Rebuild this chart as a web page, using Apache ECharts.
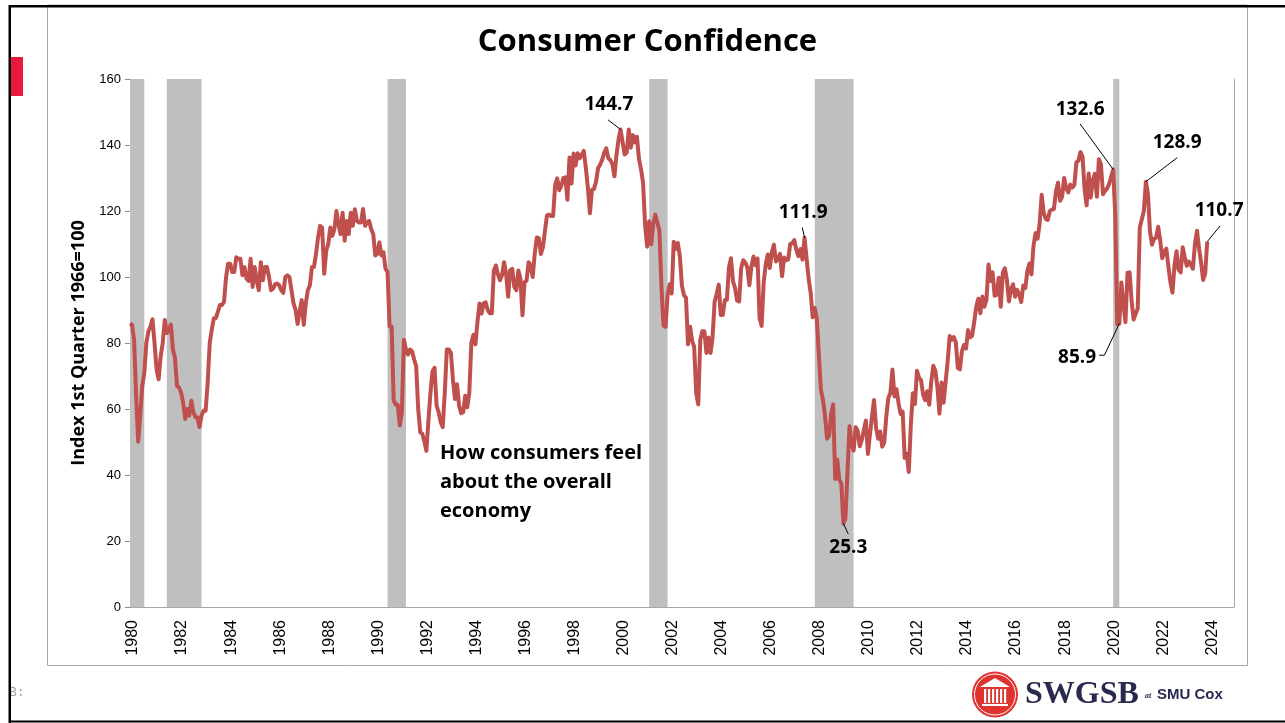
<!DOCTYPE html>
<html><head><meta charset="utf-8">
<style>html,body{margin:0;padding:0;background:#fff}#c{width:1285px;height:723px}</style>
<script src="https://cdn.jsdelivr.net/npm/echarts@6/dist/echarts.min.js"></script>
</head><body><div id="c"></div>
<script>
const y1980=[85.9,85.5,81,64,50.1,58,67,71,80,83.5,85,87.2];
const y1981=[80,72,69,76,80,87,83,84,85.6,78,75.5,67];
const y1982=[66.5,65,62,57,60,58,62.5,59,57.5,57.5,54.5,58];
const y1983=[59.5,59.5,68,80,84,87.5,87.5,89.5,91.5,91.5,92.5,100];
const y1984=[104,104,101.5,101.5,106,105.5,105.5,100.5,103,99.5,98.8,105.5];
const y1985=[97,103,99,96,104.5,99,103,103,100,96,96.5,97.8];
const y1986=[98,97.5,96,95.2,100,100.5,100,96,92,90,85.8,89.5];
const y1987=[93,85.5,92,96,97.5,103,103,107,112,115.5,115,101];
const y1988=[108,110,115,112.5,114.5,120,116,113,119.5,111,117,113];
const y1989=[119.5,115.5,120.5,117,116.5,116.5,120.6,115.5,116.5,117,114.5,113];
const y1990=[106.5,107,110.5,106.5,107.5,102.5,101.5,85,85,62.6,61.3,61.3];
const y1991=[55,59,81,78,76.5,78,77.5,75,73,60,52.9,52.5];
const y1992=[50.2,47.3,56.5,65,71.5,72.5,61,59,56,54.5,65,78];
const y1993=[78,77,68.8,63,67.5,61,58.7,59,64,60.5,65,80];
const y1994=[82.5,79.6,86.5,92,88.9,92,92.3,90,89,89,102,103.5];
const y1995=[100.8,99,100.5,104.5,101,94,102,102.5,97,96,102,99.5];
const y1996=[88.4,98.4,98.9,104.5,103.5,100,107,112,111.8,107,109,114];
const y1997=[118.7,118.9,118.5,118.5,127.9,129.9,126.3,127.6,130,130.2,123.4,136.2];
const y1998=[128.3,137.4,133.8,137.5,136,137,138.2,133.1,127,119.3,126.4,126.7];
const y1999=[128.9,133,134,135.5,137.7,139,136,135.4,134.2,130.5,137,141.7];
const y2000=[144.7,140.8,137.1,137.7,144.7,139.2,143,140.8,142.5,135.8,132.6,128.6];
const y2001=[115.7,109.2,116.9,109.9,116.1,118.9,116.5,114,97,85.3,84.9,94.6];
const y2002=[97.8,95,110.7,108.5,110.3,106.3,97.4,94.5,93.7,79.6,84.9,80.7];
const y2003=[78.8,64.8,61.4,81,83.6,83.5,77,81.7,77,81.7,92.5,94.8];
const y2004=[97.7,88.5,88.5,93,93.1,102.8,105.7,98.7,96.7,92.9,92.6,102.7];
const y2005=[105.1,104.4,103,97.5,103.1,106.2,103.6,105.6,87.5,85.2,98.3,103.8];
const y2006=[106.8,102.7,107.5,109.8,104.7,105.4,107,100.2,105.9,105.1,105.3,110];
const y2007=[110.2,111.2,108.2,106.3,108.5,105.3,111.9,105.6,99.5,95.2,87.8,90.6];
const y2008=[87.3,76.4,65.9,62.8,58.1,51,51.9,58.5,61.4,38.8,44.7,38.6];
const y2009=[37.4,25.3,26.9,40.8,54.8,49.3,47.4,54.5,53.4,48.7,50.6,53.6];
const y2010=[56.5,46.4,52.3,57.7,62.7,54.3,51,53.2,48.6,49.9,57.8,63.4];
const y2011=[64.8,72,63.8,66,61.7,58.5,59.2,45.2,46.4,40.9,55.2,64.8];
const y2012=[61.5,71.6,69.5,68.7,64.4,62.7,65.4,61.3,68.4,73.1,71.5,66.7];
const y2013=[58.6,68,61.9,68.1,74.3,82.1,81,81.8,80.2,72.4,72,77.5];
const y2014=[79.4,78.3,83.9,81.7,82.2,86.4,90.9,93.4,89,94.1,91,93.1];
const y2015=[103.8,98.8,101.4,94.3,94.6,99.8,91,101.3,102.6,99.1,92.6,96.3];
const y2016=[97.8,94,96.1,94.7,92.4,97.4,96.7,101.8,104.1,100.8,109.4,113.3];
const y2017=[111.6,116.1,124.9,119.4,117.6,117.3,120,120.4,120.6,125.9,128.6,123.1];
const y2018=[124.3,130,127,125.6,128,127.1,127.9,134.7,135.3,137.9,136.4,126.6];
const y2019=[121.7,131.4,124.1,129.2,131.3,124.3,135.7,134.2,125.1,126.1,126.8,128.2];
const y2020=[130.4,132.6,118.8,85.7,85.9,98.3,91.7,86.3,101.3,101.4,92.9,87.1];
const y2021=[88.9,90.4,114.9,117.5,120,128.9,125.1,113.8,109.8,111.6,111.9,115.2];
const y2022=[111.1,105.7,107.6,108.6,103.2,98.4,95.3,103.6,107.8,102.2,101.4,109];
const y2023=[106,103.4,104.7,103.7,102.5,110.1,114,108.7,104.3,99.1,101,110.7];

const confidence=[y1980,y1981,y1982,y1983,y1984,y1985,y1986,y1987,y1988,y1989,y1990,y1991,y1992,y1993,y1994,y1995,y1996,y1997,y1998,y1999,y2000,y2001,y2002,y2003,y2004,y2005,y2006,y2007,y2008,y2009,y2010,y2011,y2012,y2013,y2014,y2015,y2016,y2017,y2018,y2019,y2020,y2021,y2022,y2023].flat();

// Monthly category axis, Jan 1980 to Jan 2025
const months=[];
for(let y=1980;y<=2025;y++)for(let m=1;m<=12;m++){if(y===2025&&m>1)break;months.push(y+'-'+String(m).padStart(2,'0'));}

const recessions=[['1980-01','1980-08'],['1981-07','1982-12'],['1990-07','1991-04'],['2001-03','2001-12'],['2007-12','2009-07'],['2020-02','2020-05']];

// Callouts: [label, labelMonthIndex, labelValue]
const callouts=[['144.7',234.3,152.1],['111.9',329.3,119.4],['132.6',464.8,150.6],['128.9',512.3,140.6],['110.7',532.8,120],['85.9',463.3,75.6],['25.3',351.4,17.9]];
// Leader lines: list of [monthIndex,value] vertices
const leaders=[[[233.9,147.6],[240,144.7]],[[328.9,115],[330,111.9]],[[464.8,146.4],[481,132.6]],[[512.4,136.2],[497,128.9]],[[533.3,115.5],[527,110.7]],[[474.1,76.3],[476.7,76.3],[484,85.9]],[[351.4,22.1],[349,25.3]]];

const boldFont='"Open Sans","Noto Sans",sans-serif';
const chart=echarts.init(document.getElementById('c'),null,{renderer:'canvas'});
const leaderSeries=leaders.map(pts=>({type:'line',xAxisIndex:1,yAxisIndex:0,data:pts,symbol:'none',silent:true,z:6,lineStyle:{color:'#000',width:1},animation:false}));

chart.setOption({
 animation:false,
 backgroundColor:'#fff',
 textStyle:{fontFamily:'"Liberation Sans",sans-serif'},
 title:{text:'Consumer Confidence',left:642.5,textAlign:'center',top:22,textStyle:{fontFamily:boldFont,fontWeight:'bold',fontSize:31,color:'#000'}},
 grid:{left:130,top:79,width:1103.8,height:528,show:false},
 xAxis:[{type:'category',data:months,boundaryGap:false,axisTick:{show:false},axisLine:{lineStyle:{color:'#a6a6a6',width:1}},splitLine:{show:false},
   axisLabel:{interval:23,rotate:90,fontSize:16,color:'#000',margin:13,verticalAlign:'top',lineHeight:6,fontFamily:'"Liberation Sans",sans-serif',formatter:v=>v.slice(0,4)}},
  {type:'value',min:0,max:540,show:false}],
 yAxis:[{type:'value',min:0,max:160,interval:20,splitLine:{show:false},
   axisLine:{show:true,lineStyle:{color:'#8c8c8c',width:1}},axisTick:{show:true,length:5,lineStyle:{color:'#8c8c8c'}},
   axisLabel:{fontSize:13,color:'#000',margin:9,fontFamily:'"Liberation Sans",sans-serif'},
   name:'Index 1st Quarter 1966=100',nameLocation:'middle',nameGap:42,nameTextStyle:{fontFamily:boldFont,fontWeight:'bold',fontSize:18,color:'#000'}},
  {type:'value',min:0,max:160,interval:20,position:'right',splitLine:{show:false},axisLine:{show:true,lineStyle:{color:'#a6a6a6',width:1}},axisTick:{show:false},axisLabel:{show:false}}],
 series:[
  {type:'line',name:'Consumer Confidence',data:confidence,symbol:'none',z:5,lineStyle:{color:'#C0504D',width:4,join:'round'},silent:true,
   markArea:{silent:true,itemStyle:{color:'#BFBFBF',opacity:1},data:recessions.map(r=>[{xAxis:r[0]},{xAxis:r[1]}])}},
  ...leaderSeries,
  {type:'scatter',xAxisIndex:1,yAxisIndex:0,symbolSize:0,z:7,silent:true,itemStyle:{opacity:1},
   data:callouts.map(c=>({value:[c[1],c[2]],label:{show:true,formatter:c[0],position:'inside',fontFamily:boldFont,fontWeight:'bold',fontSize:19,color:'#000'}}))}
 ],
 graphic:[
  {type:'rect',silent:true,z:0,shape:{x:47.5,y:5,width:1200,height:660.5},style:{fill:'none',stroke:'#a6a6a6',lineWidth:1}},
  {type:'rect',silent:true,z:10,shape:{x:9,y:5,width:1276,height:2.5},style:{fill:'#000'}},
  {type:'rect',silent:true,z:10,shape:{x:8.5,y:5,width:2.5,height:718},style:{fill:'#000'}},
  {type:'rect',silent:true,z:10,shape:{x:9,y:720.5,width:1276,height:2},style:{fill:'#000'}},
  {type:'rect',silent:true,z:10,shape:{x:11,y:57,width:12,height:39},style:{fill:'#E8193A'}},
  {type:'text',silent:true,z:9,style:{x:9,y:693,text:'B:',font:'13px "Liberation Mono",monospace',fill:'#9a9a9a',textVerticalAlign:'middle'}},
  {type:'text',silent:true,z:10,style:{x:440,y:453,text:'How consumers feel',font:'bold 20px '+boldFont,fill:'#000',textVerticalAlign:'middle'}},
  {type:'text',silent:true,z:10,style:{x:440,y:482,text:'about the overall',font:'bold 20px '+boldFont,fill:'#000',textVerticalAlign:'middle'}},
  {type:'text',silent:true,z:10,style:{x:440,y:511,text:'economy',font:'bold 20px '+boldFont,fill:'#000',textVerticalAlign:'middle'}},
  // Logo
  {type:'circle',silent:true,z:10,shape:{cx:995,cy:694.5,r:23},style:{fill:'#E0322F'}},
  {type:'circle',silent:true,z:10,shape:{cx:995,cy:694.5,r:20.5},style:{fill:'none',stroke:'#fff',lineWidth:1}},
  {type:'polygon',silent:true,z:11,shape:{points:[[980,687],[995,678],[1010,687]]},style:{fill:'#fff'}},
  {type:'rect',silent:true,z:11,shape:{x:984,y:689,width:2.2,height:14},style:{fill:'#fff'}},
  {type:'rect',silent:true,z:11,shape:{x:988,y:689,width:2.2,height:14},style:{fill:'#fff'}},
  {type:'rect',silent:true,z:11,shape:{x:992,y:689,width:2.2,height:14},style:{fill:'#fff'}},
  {type:'rect',silent:true,z:11,shape:{x:996,y:689,width:2.2,height:14},style:{fill:'#fff'}},
  {type:'rect',silent:true,z:11,shape:{x:1000,y:689,width:2.2,height:14},style:{fill:'#fff'}},
  {type:'rect',silent:true,z:11,shape:{x:1004,y:689,width:2.2,height:14},style:{fill:'#fff'}},
  {type:'rect',silent:true,z:11,shape:{x:982,y:704,width:26,height:2},style:{fill:'#fff'}},
  {type:'text',silent:true,z:10,style:{x:1025,y:695,text:'SWGSB',font:'bold 32px "Liberation Serif",serif',fill:'#2A2A4E',textVerticalAlign:'middle'}},
  {type:'text',silent:true,z:10,style:{x:1145,y:696,text:'at',font:'italic bold 8px "Liberation Serif",serif',fill:'#2A2A4E',textVerticalAlign:'middle'}},
  {type:'text',silent:true,z:10,style:{x:1157,y:695,text:'SMU Cox',font:'bold 15px "Liberation Sans",sans-serif',fill:'#2A2A4E',textVerticalAlign:'middle'}}
 ]
});
</script></body></html>
